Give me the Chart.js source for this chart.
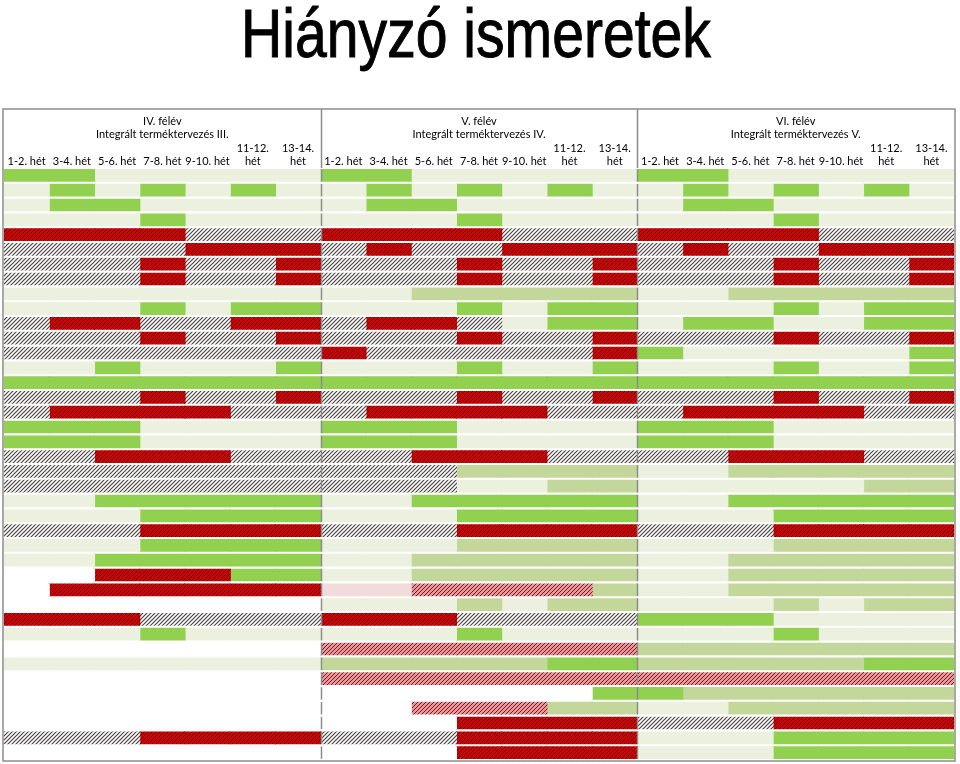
<!DOCTYPE html>
<html lang="hu">
<head>
<meta charset="utf-8">
<title>Hiányzó ismeretek</title>
<script src="https://cdn.jsdelivr.net/npm/chart.js@4.4.1/dist/chart.umd.min.js"></script>
<style>
    html, body { margin: 0; padding: 0; background: #fff; }
    #wrap { width: 960px; height: 764px; position: relative; }
</style>
</head>
<body>
<div id="wrap"><canvas id="gapChart"></canvas></div>
<script>
// Header texts
const title = 'Hiányzó ismeretek';
const semesters = ['IV. félév', 'V. félév', 'VI. félév'];
const subjects = ['Integrált terméktervezés III.', 'Integrált terméktervezés IV.', 'Integrált terméktervezés V.'];
const weeks = ['1-2. hét', '3-4. hét', '5-6. hét', '7-8. hét', '9-10. hét', ['11-12.', 'hét'], ['13-14.', 'hét']];

// One string per row, one letter per two-week slot
// G = zöld, L = halványzöld, O = olíva, R = piros csíkos, H = szürke csíkos,
// P = rózsaszín csíkos, K = rózsaszín, W = üres
const semIV = [
    'GGLLLLL', 'LGLGLGL', 'LGGLLLL', 'LLLGLLL', 'RRRRHHH', 'HHHHRRR', 'HHHRHHR', 'HHHRHHR',
    'LLLLLLL', 'LLLGLGG', 'HRRHHRR', 'HHHRHHR', 'HHHHHHH', 'LLGLLLG', 'GGGGGGG', 'HHHRHHR',
    'HRRRRHH', 'GGGLLLL', 'GGGLLLL', 'HHRRRHH', 'HHHHHHH', 'HHHHHHH', 'LLGGGGG', 'LLLGGGG',
    'HHHRRRR', 'LLLGGGG', 'LLGGGGG', 'WWRRRGG', 'WRRRRRR', 'WWWWWWW', 'RRRHHHH', 'LLLGLLL',
    'WWWWWWW', 'LLLLLLL', 'WWWWWWW', 'WWWWWWW', 'WWWWWWW', 'WWWWWWW', 'HHHRRRR', 'WWWWWWW'
];
const semV = [
    'GGLLLLL', 'LGLGLGL', 'LGGLLLL', 'LLLGLLL', 'RRRRHHH', 'HRHHRRR', 'HHHRHHR', 'HHHRHHR',
    'LLOOOOO', 'LLLGLGG', 'HRRHLGG', 'HHHRHHR', 'RHHHHHR', 'LLLGLLG', 'GGGGGGG', 'HHHRHHR',
    'HRRRRHH', 'GGGLLLL', 'GGGLLLL', 'HHRRRHH', 'HHHOOOO', 'HHHLLOO', 'LLGGGGG', 'LLLGGGG',
    'HHHRRRR', 'LLLOOOO', 'LLOOOOO', 'LLOOOOO', 'KKPPPPO', 'LLLOLOO', 'RRRHHHH', 'LLLGLLL',
    'PPPPPPP', 'OOOOOGG', 'PPPPPPP', 'WWWWWWG', 'WWPPPOO', 'WWWRRRR', 'HHHRRRR', 'WWWRRRR'
];
const semVI = [
    'GGLLLLL', 'LGLGLGL', 'LGGLLLL', 'LLLGLLL', 'RRRRHHH', 'HRHHRRR', 'HHHRHHR', 'HHHRHHR',
    'LLOOOOO', 'LLLGLGG', 'LGGLLGG', 'HHHRHHR', 'GLLLLLG', 'LLLGLLG', 'GGGGGGG', 'HHHRHHR',
    'HRRRRHH', 'GGGLLLL', 'GGGLLLL', 'HHRRRHH', 'LLOOOOO', 'LLLLLOO', 'LLGGGGG', 'LLLGGGG',
    'HHHRRRR', 'LLLOOOO', 'LLOOOOO', 'LLOOOOO', 'LLOOOOO', 'LLLOLOO', 'GGGLLLL', 'LLLGLLL',
    'OOOOOOO', 'OOOOOGG', 'PPPPPPP', 'GOOOOOO', 'LLOOOOO', 'HHHRRRR', 'LLLGGGG', 'LLLGGGG'
];
const panels = [semIV, semV, semVI];

// diagonal hatch like Excel's "wide upward diagonal"
function hatch(bg, fg, w) {
    const s = 4;
    const c = document.createElement('canvas');
    c.width = s; c.height = s;
    const g = c.getContext('2d');
    g.fillStyle = bg;
    g.fillRect(0, 0, s, s);
    g.strokeStyle = fg;
    g.lineWidth = w;
    g.beginPath();
    g.moveTo(-1, s + 1); g.lineTo(s + 1, -1);
    g.moveTo(-1, 1); g.lineTo(1, -1);
    g.moveTo(s - 1, s + 1); g.lineTo(s + 1, s - 1);
    g.stroke();
    return g.createPattern(c, 'repeat');
}

const fills = {
    G: '#92d050',
    L: '#ebf1de',
    O: '#c4d79b',
    K: '#f2dcdb',
    W: '#ffffff',
    R: hatch('#d60000', '#480000', 1.0),
    H: hatch('#ffffff', '#4d4444', 1.2),
    P: hatch('#ee9498', '#642428', 1.0)
};

const rowLabels = semIV.map((r, i) => String(i + 1));

// every cell is one two-week slot wide, stacked left to right
const datasets = [];
panels.forEach((rows, p) => {
    for (let c = 0; c < 7; c++) {
        datasets.push({
            label: semesters[p] + ' ' + [].concat(weeks[c]).join(' '),
            data: rows.map(() => 1),
            backgroundColor: rows.map(r => fills[r[c]]),
            borderWidth: 0,
            inflateAmount: 0.6,
            barPercentage: 0.78,
            categoryPercentage: 1
        });
    }
});

const frame = {
    id: 'frame',
    afterDraw(chart) {
        const ctx = chart.ctx;
        const x = chart.scales.x;
        const y = chart.scales.y;
        const top = 109, bottom = 761;
        ctx.save();

        // title, Arial Narrow look
        ctx.fillStyle = '#000';
        ctx.strokeStyle = '#000';
        ctx.lineWidth = 1;
        ctx.textAlign = 'center';
        ctx.textBaseline = 'alphabetic';
        ctx.font = '68px "Liberation Sans", Arial, sans-serif';
        ctx.save();
        ctx.translate(476, 57);
        ctx.scale(0.84, 1);
        ctx.fillText(title, 0, 0);
        ctx.strokeText(title, 0, 0);
        ctx.restore();

        // headers
        ctx.font = '11px Lato';
        ctx.textBaseline = 'middle';
        panels.forEach((rows, p) => {
            const l = x.getPixelForValue(p * 7);
            const r = x.getPixelForValue(p * 7 + 7);
            ctx.fillText(semesters[p], (l + r) / 2, 121);
            ctx.fillText(subjects[p], (l + r) / 2, 134);
            weeks.forEach((w, c) => {
                const cx = x.getPixelForValue(p * 7 + c + 0.5);
                if (Array.isArray(w)) {
                    ctx.fillText(w[0], cx, 148);
                    ctx.fillText(w[1], cx, 161);
                } else {
                    ctx.fillText(w, cx, 161);
                }
            });
        });

        // borders
        ctx.strokeStyle = '#8c8c8c';
        ctx.lineWidth = 1.5;
        ctx.strokeRect(3, top, 952, bottom - top);
        [7, 14].forEach(v => {
            const px = Math.round(x.getPixelForValue(v)) + 0.5;
            ctx.beginPath();
            ctx.moveTo(px, top);
            ctx.lineTo(px, y.top);
            ctx.stroke();
            const h = y.getPixelForValue(1) - y.getPixelForValue(0);
            rowLabels.forEach((lab, i) => {
                const cy = y.getPixelForValue(i);
                ctx.beginPath();
                ctx.moveTo(px, cy - h * 0.42);
                ctx.lineTo(px, cy + h * 0.42);
                ctx.stroke();
            });
        });
        ctx.restore();
    }
};

new Chart(document.getElementById('gapChart'), {
    type: 'bar',
    data: { labels: rowLabels, datasets: datasets },
    options: {
        indexAxis: 'y',
        responsive: true,
        maintainAspectRatio: false,
        animation: false,
        layout: { padding: { top: 168, bottom: 4, left: 4, right: 6 } },
        scales: {
            x: { stacked: true, min: 0, max: 21, display: false },
            y: { stacked: true, display: false }
        },
        plugins: {
            legend: { display: false },
            tooltip: { enabled: false }
        }
    },
    plugins: [frame]
});
</script>
</body>
</html>
